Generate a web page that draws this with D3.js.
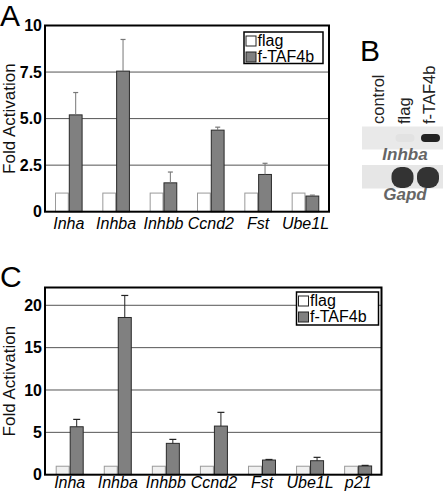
<!DOCTYPE html>
<html><head><meta charset="utf-8">
<script src="https://cdn.jsdelivr.net/npm/d3@7"></script>
<style>
html,body{margin:0;padding:0;background:#fff;}
svg{display:block;font-family:"Liberation Sans",Arial,Helvetica,sans-serif;}
</style></head>
<body>
<svg id="fig" width="443" height="492"></svg>
<script>
// ---- Panel A data ----
const catsA = ["Inha","Inhba","Inhbb","Ccnd2","Fst","Ube1L"];
const flagA = [1,1,1,1,1,1];
const tafA = [5.2,7.55,1.55,4.38,2.0,0.84];
const errA = [1.2,1.7,0.58,0.16,0.6,0.05];
const ticksA = [0,2.5,5,7.5,10];
const tickLabelsA = ["0","2.5","5.0","7.5","10"];
// ---- Panel C data ----
const catsC = ["Inha","Inhba","Inhbb","Ccnd2","Fst","Ube1L","p21"];
const flagC = [1,1,1,1,1,1,1];
const tafC = [5.66,18.56,3.7,5.74,1.73,1.65,1.03];
const errC = [0.87,2.6,0.47,1.62,0.07,0.4,0.07];
const ticksC = [0,5,10,15,20];
const tickLabelsC = ["0","5","10","15","20"];
// ---- Panel B ----
const lanesB = ["control","flag","f-TAF4b"];
const inhbaSignal = [0, 0.03, 1];
const gapdSignal = [0, 1, 1];
const seriesNames = ["flag","f-TAF4b"];

const svg = d3.select("#fig");

function panel(cfg){
  const g = svg.append("g");
  const x = d3.scaleBand().domain(cfg.cats).range([cfg.left, cfg.right]).padding(0);
  const xs = d3.scaleBand().domain(seriesNames).range([cfg.barOff, cfg.barOff + 2*cfg.barW]);
  const y = d3.scaleLinear().domain(cfg.domain).range([cfg.bottom, cfg.top]);

  g.selectAll("line.grid").data(cfg.ticks.filter(t=>t>0 && y(t) > cfg.top+1)).join("line")
    .attr("x1", cfg.left).attr("x2", cfg.right)
    .attr("y1", d=>y(d)).attr("y2", d=>y(d))
    .attr("stroke", "#555").attr("stroke-width", 1);

  g.selectAll("text.tick").data(cfg.ticks).join("text")
    .attr("x", cfg.left-3).attr("y", d=>y(d)).attr("dy", "0.36em")
    .attr("text-anchor","end").attr("font-weight","bold").attr("font-size", 16)
    .text((d,i)=>cfg.tickLabels[i]);

  g.selectAll("rect.flag").data(cfg.cats).join("rect")
    .attr("x", (d)=>x(d)+xs("flag")+0.5)
    .attr("y", (d,i)=>y(cfg.flag[i]))
    .attr("width", xs.bandwidth()-1)
    .attr("height", (d,i)=>y(0)-y(cfg.flag[i]))
    .attr("fill", cfg.flagFill).attr("stroke", "#9a9a9a").attr("stroke-width", 1);

  g.selectAll("rect.taf").data(cfg.cats).join("rect")
    .attr("x", (d)=>x(d)+xs("f-TAF4b")+0.5)
    .attr("y", (d,i)=>y(cfg.taf[i]))
    .attr("width", xs.bandwidth()-1)
    .attr("height", (d,i)=>y(0)-y(cfg.taf[i]))
    .attr("fill", "#808080").attr("stroke", "#2a2a2a").attr("stroke-width", 1);

  const cx = d => x(d)+xs("f-TAF4b")+xs.bandwidth()/2;
  g.selectAll("line.err").data(cfg.cats).join("line")
    .attr("x1", cx).attr("x2", cx)
    .attr("y1", (d,i)=>y(cfg.taf[i])).attr("y2", (d,i)=>y(cfg.taf[i]+cfg.err[i]))
    .attr("stroke", cfg.errColor).attr("stroke-width", 1);
  g.selectAll("line.cap").data(cfg.cats).join("line")
    .attr("x1", d=>cx(d)-cfg.capW/2).attr("x2", d=>cx(d)+cfg.capW/2)
    .attr("y1", (d,i)=>y(cfg.taf[i]+cfg.err[i])).attr("y2", (d,i)=>y(cfg.taf[i]+cfg.err[i]))
    .attr("stroke", cfg.errColor).attr("stroke-width", 1.2);

  g.append("rect").attr("x", cfg.left).attr("y", cfg.top)
    .attr("width", cfg.right-cfg.left).attr("height", cfg.bottom-cfg.top)
    .attr("fill","none").attr("stroke","#000").attr("stroke-width", 2);

  g.selectAll("text.cat").data(cfg.cats).join("text")
    .attr("x", d=>x(d)+cfg.barOff+cfg.barW).attr("y", cfg.catY)
    .attr("text-anchor","middle").attr("font-style","italic").attr("font-size", 16)
    .text(d=>d);

  g.append("text").attr("transform", `translate(${cfg.ylabX},${(cfg.top+cfg.bottom)/2}) rotate(-90)`)
    .attr("text-anchor","middle").attr("font-size", 17).attr("fill","#111").text("Fold Activation");

  const L = cfg.legend;
  const lg = g.append("g");
  lg.append("rect").attr("x", L.x).attr("y", L.y).attr("width", L.w).attr("height", L.h)
    .attr("fill","#fff").attr("stroke","#000").attr("stroke-width",1.5);
  seriesNames.forEach((s,i)=>{
    lg.append("rect").attr("x", L.x+2).attr("y", L.y+4+i*16).attr("width",10).attr("height",10)
      .attr("fill", i===0?"#fff":"#808080").attr("stroke","#222").attr("stroke-width",1);
    lg.append("text").attr("x", L.x+13.5).attr("y", L.y+13.5+i*16).attr("font-size",16)
      .text(s);
  });

  g.append("text").attr("x", cfg.letterX).attr("y", cfg.letterY).attr("font-size", 30)
    .text(cfg.letter);
}

panel({cats:catsA, flag:flagA, taf:tafA, err:errA, ticks:ticksA, tickLabels:tickLabelsA,
  left:45, right:329, top:25.5, bottom:211.7, domain:[0,10],
  barOff:10, barW:13.8, flagFill:"#fff", errColor:"#777", capW:5,
  catY:229, ylabX:14.5,
  legend:{x:244, y:32, w:79, h:31.5}, letter:"A", letterX:0, letterY:25.5});

panel({cats:catsC, flag:flagC, taf:tafC, err:errC, ticks:ticksC, tickLabels:tickLabelsC,
  left:45, right:381.5, top:287.5, bottom:474.7, domain:[0,22.1],
  barOff:10.7, barW:14, flagFill:"#f0f0f0", errColor:"#222", capW:7,
  catY:488, ylabX:14.5,
  legend:{x:296.5, y:292, w:82, h:33}, letter:"C", letterX:0, letterY:287});

// ---- Panel B: blot ----
const b = svg.append("g");
b.append("text").attr("x", 360).attr("y", 61).attr("font-size", 30).text("B");
const lx = d3.scalePoint().domain(lanesB).range([378, 429]);
b.selectAll("text.lane").data(lanesB).join("text")
  .attr("transform", d=>`translate(${lx(d)+6},124) rotate(-90)`)
  .attr("font-size", 16.5).attr("fill","#222").text(d=>d);
b.append("rect").attr("x",362).attr("y",126.5).attr("width",81).attr("height",23).attr("fill","#e9e9e9");
b.append("rect").attr("x",362).attr("y",165).attr("width",81).attr("height",23.5).attr("fill","#e6e6e6");
b.selectAll("rect.inhba").data(lanesB).join("rect")
  .attr("x", d=>lx(d)-8).attr("y", 134).attr("width", 19).attr("height", 8)
  .attr("rx", 4).attr("ry", 4)
  .attr("fill", "#222").attr("opacity", (d,i)=>inhbaSignal[i]);
b.selectAll("rect.gapd").data(lanesB).join("rect")
  .attr("x", (d,i)=>lx(d)-12).attr("y", 167).attr("width", 22).attr("height", 21)
  .attr("rx", 9).attr("ry", 9)
  .attr("fill", "#333").attr("opacity", (d,i)=>gapdSignal[i]);
b.append("text").attr("x", 405).attr("y", 160).attr("text-anchor","middle")
  .attr("font-style","italic").attr("font-weight","bold").attr("font-size", 17).attr("fill","#666").text("Inhba");
b.append("text").attr("x", 405).attr("y", 200).attr("text-anchor","middle")
  .attr("font-style","italic").attr("font-weight","bold").attr("font-size", 17).attr("fill","#666").text("Gapd");
</script>
</body></html>
